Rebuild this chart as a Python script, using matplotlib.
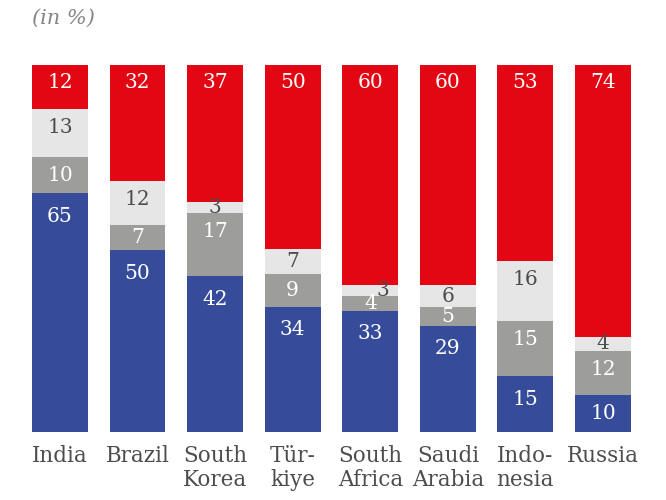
import numpy as np
import matplotlib.pyplot as plt

countries = ['India', 'Brazil', 'South\nKorea', 'Tür-\nkiye', 'South\nAfrica',
             'Saudi\nArabia', 'Indo-\nnesia', 'Russia']
blue_vals = [65, 50, 42, 34, 33, 29, 15, 10]
gray_vals = [10, 7, 17, 9, 4, 5, 15, 12]
light_vals = [13, 12, 3, 7, 3, 6, 16, 4]
red_vals = [12, 32, 37, 50, 60, 60, 53, 74]

# (values, bar colour, label colour, label offset from segment top in %)
series = [
    (blue_vals, '#364c9a', 'white', 6.2),
    (gray_vals, '#9d9d9c', 'white', 5.0),
    (light_vals, '#e6e6e6', '#4d4d4d', 5.0),
    (red_vals, '#e30613', 'white', 4.8),
]

plt.rcParams['font.family'] = ['DejaVu Serif']

fig = plt.figure(figsize=(6.66, 5), dpi=100)
ax = fig.add_axes([0.0318, 0.136, 0.9318, 0.734])

x = np.arange(len(countries))
totals = np.sum([blue_vals, gray_vals, light_vals, red_vals], axis=0)
bottom = np.zeros(len(countries))
for k, (vals, color, txt_color, off) in enumerate(series):
    vals = np.array(vals, dtype=float)
    shares = vals / totals * 100  # every column is scaled to a full 100 %
    ax.bar(x, shares, bottom=bottom, width=0.72, color=color)
    for i, (xi, b, h, v) in enumerate(zip(x, bottom, shares, vals)):
        top = b + h
        y = top - min(h / 2, off)
        dx = 0.0
        # small light segment sitting on a small gray one: nudge its label aside
        if k == 2 and h < 4 and gray_vals[i] < 6:
            dx = 0.16
        ax.text(xi + dx, y, f'{int(v)}', ha='center', va='center',
                color=txt_color, fontsize=14.5)
    bottom += shares

ax.set_xlim(-0.5, len(countries) - 0.5)
ax.set_ylim(0, 100)
ax.set_xticks(x)
ax.set_xticklabels(countries, fontsize=15.5, color='#4d4d4d', linespacing=1.15,
                   va='top')
ax.tick_params(axis='x', length=0, pad=9)
ax.set_yticks([])
for s in ax.spines.values():
    s.set_visible(False)

fig.text(32 / 666, 1 - 18 / 500, '(in %)', ha='left', va='center',
         fontsize=15, style='italic', color='#858585')

fig.savefig('out.png', dpi=100)
